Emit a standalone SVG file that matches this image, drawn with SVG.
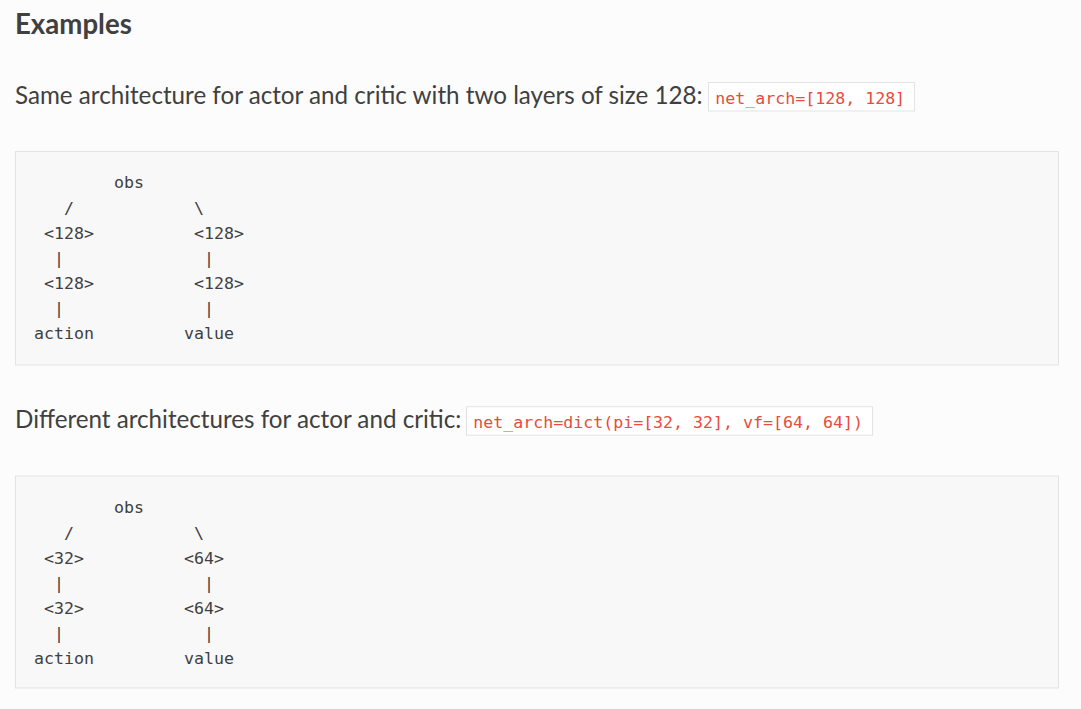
<svg xmlns="http://www.w3.org/2000/svg" width="1081" height="709" viewBox="0 0 1081 709">
<style>
.h{font-family:Lato,"Liberation Sans",sans-serif;font-weight:bold;font-size:27.6px;fill:#404040}
.p{font-family:Lato,"Liberation Sans",sans-serif;font-size:24.2px;fill:#404040}
.code{fill:#ffffff;stroke:#e1e4e5;stroke-width:1}
.ct{font-family:"DejaVu Sans Mono","Liberation Mono",monospace;font-size:16.6px;fill:#e74c3c}
.pre{fill:#f8f8f8;stroke:#e1e4e5;stroke-width:1}
.m{font-family:"DejaVu Sans Mono","Liberation Mono",monospace;font-size:16.6px;fill:#404040}
</style>
<rect x="0" y="0" width="1081" height="709" fill="#fcfcfc"/>
<text class="h" x="15" y="34">Examples</text>

<g id="example1">
<text class="p" x="15" y="103.5">Same architecture for actor and critic with two layers of size 128:</text>
<g id="code1">
<rect class="code" x="708.5" y="82.5" width="206" height="28.5"/>
<text class="ct" x="715.3" y="103.8">net_arch=[128, 128]</text>
</g>
<g id="pre1">
<rect class="pre" x="15.5" y="151.5" width="1043" height="213.5"/>
<g id="pre1-text" class="m">
<text x="114" y="188.3">obs</text>
<text x="64" y="213.5">/</text>
<text x="194" y="213.5">\</text>
<text x="44" y="238.6">&lt;128&gt;</text>
<text x="194" y="238.6">&lt;128&gt;</text>
<text x="54" y="263.8">|</text>
<text x="204" y="263.8">|</text>
<text x="44" y="289">&lt;128&gt;</text>
<text x="194" y="289">&lt;128&gt;</text>
<text x="54" y="314.1">|</text>
<text x="204" y="314.1">|</text>
<text x="34" y="339.3">action</text>
<text x="184" y="339.3">value</text>
</g>
</g>
</g>

<g id="example2">
<text class="p" x="15" y="428">Different architectures for actor and critic:</text>
<g id="code2">
<rect class="code" x="466.5" y="406.7" width="406" height="28.5"/>
<text class="ct" x="473.3" y="428">net_arch=dict(pi=[32, 32], vf=[64, 64])</text>
</g>
<g id="pre2">
<rect class="pre" x="15.5" y="476" width="1043" height="212"/>
<g id="pre2-text" class="m">
<text x="114" y="513.3">obs</text>
<text x="64" y="538.5">/</text>
<text x="194" y="538.5">\</text>
<text x="44" y="563.6">&lt;32&gt;</text>
<text x="184" y="563.6">&lt;64&gt;</text>
<text x="54" y="588.8">|</text>
<text x="204" y="588.8">|</text>
<text x="44" y="614">&lt;32&gt;</text>
<text x="184" y="614">&lt;64&gt;</text>
<text x="54" y="639.1">|</text>
<text x="204" y="639.1">|</text>
<text x="34" y="664.3">action</text>
<text x="184" y="664.3">value</text>
</g>
</g>
</g>
</svg>
